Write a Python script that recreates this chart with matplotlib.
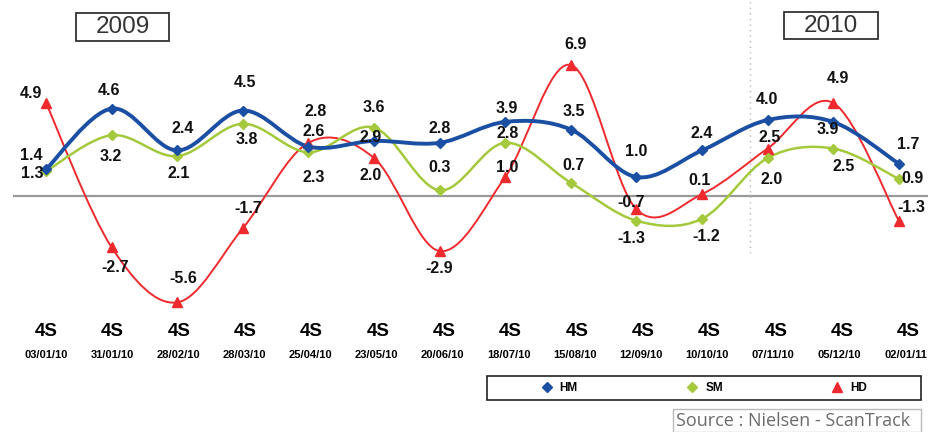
import numpy as np
import matplotlib; matplotlib.use("Agg")
import matplotlib.pyplot as plt
from matplotlib.path import Path
from matplotlib.patches import PathPatch, Rectangle
from matplotlib.lines import Line2D

BLUE = "#1b4fa3"; GREEN = "#a4c93c"; RED = "#ee2a2e"; GREY = "#999999"
plt.rcParams.update({"font.family": ["Liberation Sans", "DejaVu Sans"]})

periods = ["03/01/10", "31/01/10", "28/02/10", "28/03/10", "25/04/10", "23/05/10", "20/06/10",
           "18/07/10", "15/08/10", "12/09/10", "10/10/10", "07/11/10", "05/12/10", "02/01/11"]
period_type = ["4S"] * len(periods)
hm = [1.4, 4.6, 2.4, 4.5, 2.6, 2.9, 2.8, 3.9, 3.5, 1.0, 2.4, 4.0, 3.9, 1.7]
sm = [1.3, 3.2, 2.1, 3.8, 2.3, 3.6, 0.3, 2.8, 0.7, -1.3, -1.2, 2.0, 2.5, 0.9]
hd = [4.9, -2.7, -5.6, -1.7, 2.8, 2.0, -2.9, 1.0, 6.9, -0.7, 0.1, 2.5, 4.9, -1.3]

# label offsets in pixels (dx, dy), dy upward
hm_off = [(-15, 14), (-3, 18), (5, 22), (2, 28), (5, 15), (-3, 3), (0, 14), (2, 13), (3, 18),
          (0, 25), (0, 17), (-1, 20), (-5, -8), (9, 19)]
sm_off = [(-14, -2), (-1, -21), (1, -17), (4, -16), (5, -25), (0, 20), (0, 23), (2, 9), (3, 17),
          (-5, -18), (4, -18), (4, -21), (10, -18), (14, 0)]
hd_off = [(-15, 9), (4, -20), (6, 24), (5, 20), (7, 31), (-3, -17), (0, -17), (2, 10), (5, 20),
          (-5, 7), (-2, 14), (2, 11), (5, 24), (13, 13)]

W, H = 929, 432
fig = plt.figure(figsize=(W / 100, H / 100), dpi=100)
ax = fig.add_axes([0, 1 - 310 / H, 1, 310 / H])
x = np.arange(1, len(periods) + 1)
ax.set_xlim(1 - 46 / 65.6, 1 + (W - 46) / 65.6)
ax.set_ylim(-(310 - 196) / 19, 196 / 19)
ax.axis("off")


def smooth_path(xs, ys):
    p = np.column_stack([xs, ys]).astype(float)
    n = len(p)
    verts = [p[0]]; codes = [Path.MOVETO]
    for i in range(n - 1):
        p0 = p[max(i - 1, 0)]; p1 = p[i]; p2 = p[i + 1]; p3 = p[min(i + 2, n - 1)]
        verts += [p1 + (p2 - p0) / 6, p2 - (p3 - p1) / 6, p2]
        codes += [Path.CURVE4] * 3
    return Path(verts, codes)


ax.hlines(0, 0.5, 14.5, color=GREY, lw=1.6, zorder=1)
ax.vlines(11.73, -3.0, 10.4, color="#bbbbbb", lw=1, ls=(0, (1, 3)), zorder=1)

series = [(hd, RED, "^", 7.5, 1.4, hd_off, "HD"),
          (sm, GREEN, "D", 5.5, 1.8, sm_off, "SM"),
          (hm, BLUE, "D", 5, 2.8, hm_off, "HM")]
for vals, col, mk, ms, lw, offs, name in series:
    ax.add_patch(PathPatch(smooth_path(x, vals), fc="none", ec=col, lw=lw, zorder=2))
    ax.plot(x, vals, ls="none", marker=mk, ms=ms, color=col, zorder=3)
    for xi, v, (dx, dy) in zip(x, vals, offs):
        ax.annotate(f"{v:.1f}", (xi, v), xytext=(dx, dy), textcoords="offset pixels",
                    ha="center", va="center", fontsize=11.5, fontweight="bold", color="#111111",
                    zorder=5)

# category labels under the plot
tr = ax.get_xaxis_transform()
for i, (xi, pt, d) in enumerate(zip(x, period_type, periods)):
    ax.text(xi + i * 0.0115, -21 / 310, pt, transform=tr, ha="center", va="center",
            fontsize=13.5, fontweight="bold", clip_on=False)
    ax.text(xi + i * 0.008, -45 / 310, d, transform=tr, ha="center", va="center",
            fontsize=8, fontweight="bold", clip_on=False)

# year boxes
for label, x0, x1, y0, y1 in [("2009", 76, 169, 13, 41), ("2010", 784, 878, 12, 39)]:
    fig.add_artist(Rectangle((x0 / W, 1 - y1 / H), (x1 - x0) / W, (y1 - y0) / H,
                             transform=fig.transFigure, fc="white", ec="#333333", lw=1.3))
    fig.text((x0 + x1) / 2 / W, 1 - (y0 + y1) / 2 / H, label, ha="center", va="center",
             fontsize=17.5, color="#333333")

# legend
fig.add_artist(Rectangle((487 / W, 1 - 400 / H), (921 - 487) / W, 24 / H,
                         transform=fig.transFigure, fc="white", ec="#222222", lw=1.2))
handles = [Line2D([], [], ls="none", marker="D", ms=5, color=BLUE),
           Line2D([], [], ls="none", marker="D", ms=5.5, color=GREEN),
           Line2D([], [], ls="none", marker="^", ms=7.5, color=RED)]
fig.legend(handles, ["HM", "SM", "HD"], loc="center", bbox_to_anchor=(704 / W, 1 - 388 / H),
           ncol=3, frameon=False, handlelength=1, handletextpad=0.6, columnspacing=9.2,
           prop={"weight": "bold", "size": 8.5})

# source box
fig.add_artist(Rectangle((673 / W, 0), (921 - 673) / W, 23 / H, transform=fig.transFigure,
                         fc="white", ec="#bbbbbb", lw=1))
fig.text(676 / W, 11 / H, "Source : Nielsen - ScanTrack", ha="left", va="center",
         fontsize=13, color="#6b6b6b", family=["Open Sans", "DejaVu Sans"])

fig.savefig("out.png", dpi=100)
